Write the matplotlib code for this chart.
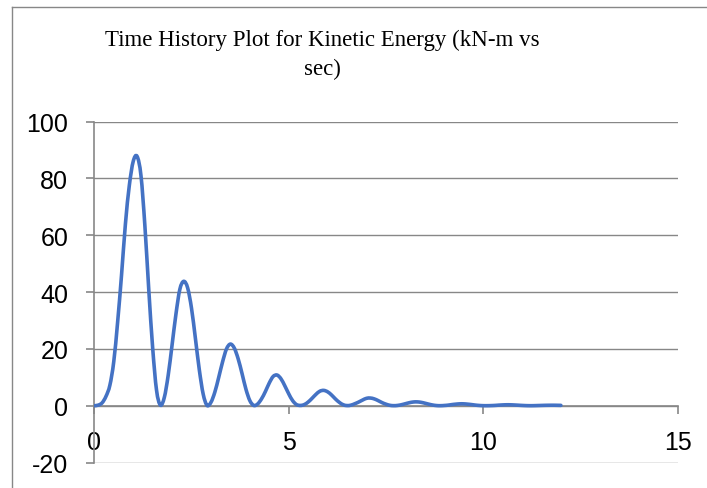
import numpy as np
import matplotlib
matplotlib.use("Agg")
import matplotlib.pyplot as plt
from matplotlib.path import Path
from matplotlib.patches import PathPatch
from matplotlib.lines import Line2D

plt.rcParams["axes.unicode_minus"] = False

dt = 0.1
ke = [0.0, 0.2, 1.0, 3.3, 7.2, 15.5, 29.5, 46.0, 64.0, 77.5,
      86.0, 87.8, 81.0, 63.5, 41.0, 20.5, 5.5, 0.2, 2.9, 10.7,
      21.4, 32.3, 41.0, 43.8, 41.5, 34.3, 23.7, 12.7, 4.1, 0.1,
      1.2, 4.8, 10.0, 15.5, 20.0, 21.7, 20.3, 16.5, 11.3, 5.8,
      1.8, 0.1, 0.6, 2.4, 5.0, 8.0, 10.3, 10.8, 9.5, 7.0,
      4.2, 1.8, 0.4, 0.1, 0.4, 1.3, 2.6, 4.0, 5.1, 5.4,
      4.9, 3.8, 2.4, 1.2, 0.35, 0.05, 0.2, 0.7, 1.3, 2.0,
      2.6, 2.7, 2.4, 1.8, 1.1, 0.55, 0.15, 0.02, 0.1, 0.35,
      0.7, 1.05, 1.3, 1.35, 1.2, 0.9, 0.55, 0.25, 0.06, 0.01,
      0.08, 0.2, 0.4, 0.55, 0.66, 0.66, 0.55, 0.4, 0.22, 0.09,
      0.02, 0.01, 0.04, 0.1, 0.2, 0.28, 0.33, 0.32, 0.26, 0.18,
      0.1, 0.04, 0.01, 0.02, 0.06, 0.1, 0.14, 0.16, 0.17, 0.15,
      0.12]
t = np.round(dt * np.arange(len(ke)), 2)

x_ticks = [0, 5, 10, 15]
y_ticks = [-20, 0, 20, 40, 60, 80, 100]
title = "Time History Plot for Kinetic Energy (kN-m vs\nsec)"

grey = "#878787"
blue = "#4472C4"


def smooth_path(x, y):
    # Excel style "smoothed line": cubic bezier through every point
    x = np.asarray(x, float)
    y = np.asarray(y, float)
    verts = [(x[0], y[0])]
    codes = [Path.MOVETO]
    n = len(x)
    for i in range(n - 1):
        x0, y0 = (x[i - 1], y[i - 1]) if i > 0 else (x[i], y[i])
        x3, y3 = (x[i + 2], y[i + 2]) if i + 2 < n else (x[i + 1], y[i + 1])
        c1 = (x[i] + (x[i + 1] - x0) / 6, y[i] + (y[i + 1] - y0) / 6)
        c2 = (x[i + 1] - (x3 - x[i]) / 6, y[i + 1] - (y3 - y[i]) / 6)
        verts += [c1, c2, (x[i + 1], y[i + 1])]
        codes += [Path.CURVE4] * 3
    return Path(verts, codes)


fig = plt.figure(figsize=(7.07, 4.89), dpi=100)
ax = fig.add_axes([0.1334, 0.0521, 0.8249, 0.697])

ax.add_patch(PathPatch(smooth_path(t, ke), fill=False, edgecolor=blue,
                       lw=2.6, capstyle="round", joinstyle="round", zorder=3))

ax.set_xlim(0, 15)
ax.set_ylim(-20, 100)
ax.set_xticks(x_ticks)
ax.set_yticks(y_ticks)
ax.yaxis.grid(True, color=grey, lw=1.0)
ax.set_axisbelow(True)

for s in ["top", "right"]:
    ax.spines[s].set_visible(False)
ax.spines["bottom"].set_position(("data", 0))
for s in ["left", "bottom"]:
    ax.spines[s].set_color(grey)
    ax.spines[s].set_linewidth(1.2)

ax.tick_params(axis="both", direction="out", length=5.8, width=1.2, color=grey)
ax.tick_params(axis="x", pad=12)
ax.tick_params(axis="y", pad=13)
for lab in ax.get_xticklabels() + ax.get_yticklabels():
    lab.set_family(["Liberation Sans", "DejaVu Sans"])
    lab.set_fontsize(18)
    lab.set_color("black")

fig.text(0.456, 0.888, title, ha="center", va="center",
         family=["Liberation Serif", "DejaVu Serif"], fontsize=16.5,
         linespacing=1.45)

# chart area border (cut off at right and bottom)
bx = 12 / 707
by = 1 - 7.5 / 489
fig.add_artist(Line2D([bx, bx], [0, by], transform=fig.transFigure,
                      color=grey, lw=1.0))
fig.add_artist(Line2D([bx, 1], [by, by], transform=fig.transFigure,
                      color=grey, lw=1.0))

fig.savefig("out.png", dpi=100)
